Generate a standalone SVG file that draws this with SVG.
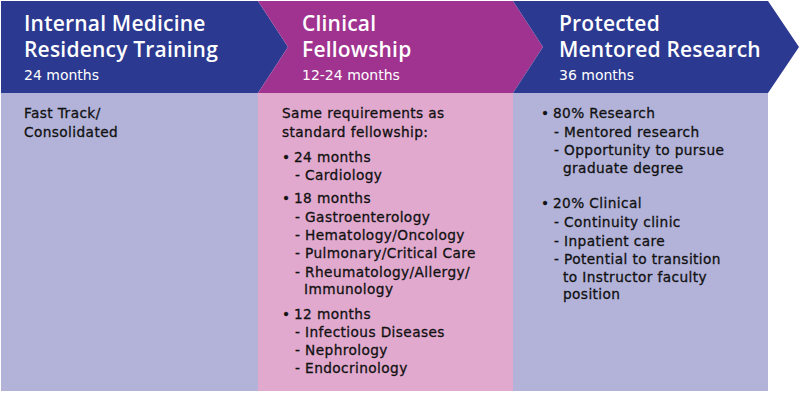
<svg xmlns="http://www.w3.org/2000/svg" width="800" height="394" viewBox="0 0 800 394">
<style>
.blue{fill:#2b3990}
.mag{fill:#a0338f}
.lav{fill:#b3b3d9}
.pink{fill:#e1a9ce}
.h{font-family:"Open Sans","Liberation Sans",sans-serif;font-size:21px;font-weight:600;letter-spacing:0.2px;fill:#ffffff}
.hs{font-family:"DejaVu Sans","Liberation Sans",sans-serif;font-size:14px;fill:#ffffff}
.b{font-family:"DejaVu Sans","Liberation Sans",sans-serif;font-size:13.7px;letter-spacing:0.4px;fill:#111111;stroke:#111111;stroke-width:0.3px}
</style>
<rect width="800" height="394" fill="#ffffff"/>
<g id="residency">
<polygon class="blue" points="1,1 258,1 288,47 258,93 1,93"/>
<rect class="lav" x="1" y="93" width="257" height="298"/>
<text class="h" x="24" y="31">Internal Medicine</text>
<text class="h" x="24" y="57">Residency Training</text>
<text class="hs" x="24" y="80">24 months</text>
<text class="b" x="24" y="118">Fast Track/</text>
<text class="b" x="24" y="137">Consolidated</text>
</g>
<g id="fellowship">
<polygon class="mag" points="258,1 513,1 543,47 513,93 258,93 288,47"/>
<rect class="pink" x="258" y="93" width="255" height="298"/>
<text class="h" x="302" y="31">Clinical</text>
<text class="h" x="302" y="57">Fellowship</text>
<text class="hs" x="302" y="80">12-24 months</text>
<text class="b" x="282" y="118">Same requirements as</text>
<text class="b" x="282" y="137">standard fellowship:</text>
<text class="b" x="282" y="162">•</text><text class="b" x="294" y="162">24 months</text>
<text class="b" x="295" y="180">- Cardiology</text>
<text class="b" x="282" y="203">•</text><text class="b" x="294" y="203">18 months</text>
<text class="b" x="295" y="222">- Gastroenterology</text>
<text class="b" x="295" y="240">- Hematology/Oncology</text>
<text class="b" x="295" y="258">- Pulmonary/Critical Care</text>
<text class="b" x="295" y="277">- Rheumatology/Allergy/</text>
<text class="b" x="304" y="294">Immunology</text>
<text class="b" x="282" y="319">•</text><text class="b" x="294" y="319">12 months</text>
<text class="b" x="295" y="337">- Infectious Diseases</text>
<text class="b" x="295" y="355">- Nephrology</text>
<text class="b" x="295" y="373">- Endocrinology</text>
</g>
<g id="research">
<polygon class="blue" points="513,1 768,1 799,47 768,93 513,93 543,47"/>
<rect class="lav" x="513" y="93" width="255" height="298"/>
<text class="h" x="559" y="31">Protected</text>
<text class="h" x="559" y="57">Mentored Research</text>
<text class="hs" x="559" y="80">36 months</text>
<text class="b" x="541" y="118">•</text><text class="b" x="553" y="118">80% Research</text>
<text class="b" x="554" y="137">- Mentored research</text>
<text class="b" x="554" y="155">- Opportunity to pursue</text>
<text class="b" x="563" y="173">graduate degree</text>
<text class="b" x="541" y="208">•</text><text class="b" x="553" y="208">20% Clinical</text>
<text class="b" x="554" y="227">- Continuity clinic</text>
<text class="b" x="554" y="246">- Inpatient care</text>
<text class="b" x="554" y="264">- Potential to transition</text>
<text class="b" x="563" y="282">to Instructor faculty</text>
<text class="b" x="563" y="299">position</text>
</g>
</svg>
